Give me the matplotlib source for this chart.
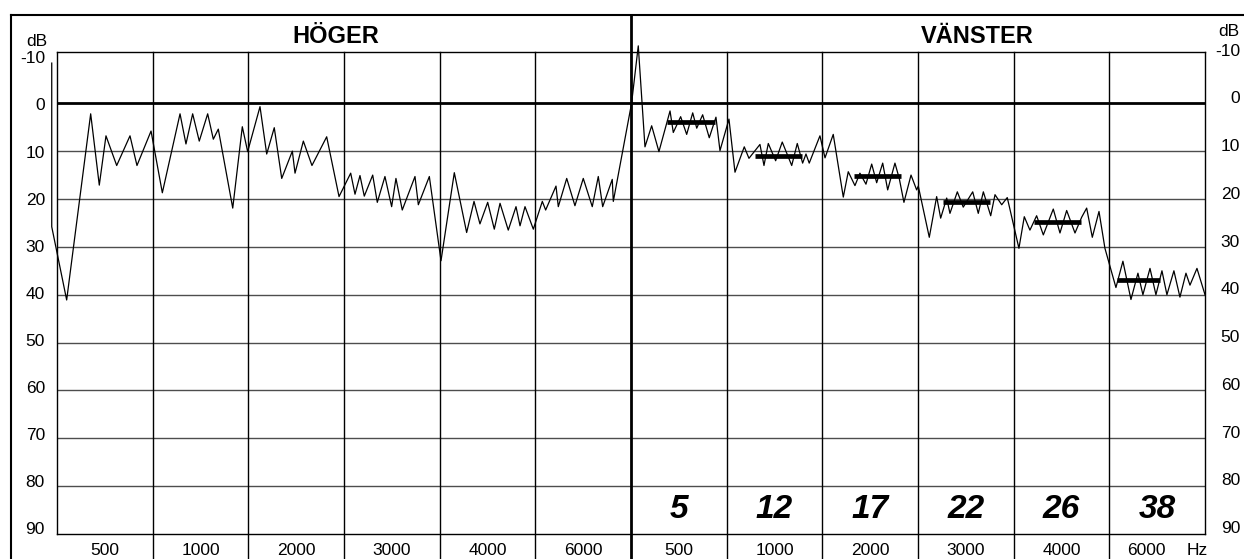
import numpy as np
import matplotlib.pyplot as plt
from matplotlib.lines import Line2D

W, H = 1244, 559
FONT = 'Liberation Sans'

# trace position in band units (0-6 = HÖGER, 6-12 = VÄNSTER) and level in dB
trace_x = [-0.055, -0.055, 0.101, 0.352, 0.442, 0.512, 0.624, 0.763, 0.836, 0.983,
           1.101, 1.286, 1.348, 1.418, 1.487, 1.575, 1.634, 1.686, 1.837, 1.937,
           1.993, 2.122, 2.192, 2.271, 2.349, 2.460, 2.488, 2.575, 2.665, 2.819,
           2.948, 3.070, 3.115, 3.167, 3.212, 3.300, 3.348, 3.428, 3.498, 3.543,
           3.609, 3.742, 3.777, 3.892, 4.014, 4.153, 4.282, 4.359, 4.421, 4.502,
           4.571, 4.631, 4.717, 4.798, 4.840, 4.892, 4.979, 5.073, 5.108, 5.216,
           5.240, 5.328, 5.414, 5.501, 5.595, 5.658, 5.704, 5.804, 5.815, 6.006,
           6.076, 6.146, 6.216, 6.292, 6.408, 6.442, 6.519, 6.582, 6.645, 6.687,
           6.749, 6.818, 6.888, 6.930, 7.024, 7.087, 7.184, 7.233, 7.348, 7.390,
           7.435, 7.512, 7.581, 7.680, 7.738, 7.794, 7.829, 7.863, 7.975, 8.028,
           8.114, 8.219, 8.271, 8.341, 8.393, 8.456, 8.516, 8.568, 8.631, 8.683,
           8.759, 8.804, 8.853, 8.927, 8.986, 9.003, 9.118, 9.195, 9.237, 9.300,
           9.334, 9.411, 9.473, 9.572, 9.630, 9.683, 9.760, 9.805, 9.875, 9.933,
           10.055, 10.111, 10.170, 10.240, 10.310, 10.414, 10.484, 10.554, 10.641, 10.711,
           10.763, 10.822, 10.892, 10.954, 11.069, 11.142, 11.226, 11.299, 11.351, 11.425,
           11.487, 11.550, 11.602, 11.675, 11.738, 11.801, 11.843, 11.916, 12.000]
trace_db = [-8.4, 25.8, 41.1, 2.2, 17.1, 6.8, 13.0, 6.8, 13.0, 5.8,
            18.7, 2.2, 8.5, 2.2, 7.9, 2.2, 7.5, 5.4, 21.9, 4.9,
            10.1, 0.7, 10.6, 5.1, 15.7, 10.0, 14.6, 7.9, 13.0, 7.0,
            19.5, 14.6, 19.0, 15.1, 19.4, 15.0, 20.7, 15.3, 21.6, 15.7,
            22.3, 15.3, 21.2, 15.3, 32.9, 14.5, 27.0, 20.5, 25.2, 20.7,
            26.3, 20.9, 26.5, 21.6, 25.6, 21.6, 26.3, 20.5, 22.3, 17.3,
            21.6, 15.7, 21.4, 15.7, 21.6, 15.3, 21.6, 15.9, 20.5, 0.0,
            -12.0, 9.1, 4.7, 10.1, 1.6, 6.1, 2.8, 6.5, 2.0, 5.2,
            2.4, 7.2, 2.9, 9.9, 3.3, 14.4, 9.1, 11.5, 8.6, 13.0,
            8.4, 12.0, 8.1, 13.0, 8.4, 12.5, 10.6, 12.5, 6.8, 11.4,
            6.5, 19.6, 14.3, 17.2, 14.6, 16.9, 12.7, 16.6, 12.5, 18.1,
            12.5, 15.7, 20.7, 15.0, 18.1, 17.3, 28.0, 19.5, 24.0, 19.8,
            23.0, 18.5, 21.7, 18.5, 23.0, 18.5, 23.5, 19.1, 21.2, 19.7,
            30.3, 23.7, 26.5, 23.5, 27.5, 22.1, 27.1, 22.4, 27.1, 23.8,
            21.9, 28.0, 22.6, 30.3, 38.5, 33.0, 41.0, 35.5, 40.0, 34.5,
            40.0, 35.0, 40.0, 35.0, 40.5, 35.5, 38.0, 34.5, 40.0]

# median bars on VÄNSTER
bar_start = [6.373, 7.296, 8.334, 9.261, 10.212, 11.080]
bar_end = [6.877, 7.784, 8.822, 9.752, 10.704, 11.530]
bar_db = [4.0, 11.0, 15.2, 20.7, 24.9, 37.0]
avg_labels = ['5', '12', '17', '22', '26', '38']

freq_labels = ['500', '1000', '2000', '3000', '4000', '6000']
db_ticks = [-10, 0, 10, 20, 30, 40, 50, 60, 70, 80, 90]

fig = plt.figure(figsize=(W / 100, H / 100), dpi=100)
ax = fig.add_axes([57 / W, (H - 534) / H, 1148 / W, (534 - 51.7) / H])
ax.set_xlim(0, 12)
ax.set_ylim(90, -10.78)
ax.set_xticks([])
ax.set_yticks([])
for s in ax.spines.values():
    s.set_linewidth(1.0)
    s.set_color('black')


def px2db(py):
    return (py - 103.3) / 4.786


# horizontal grid
for v in db_ticks[2:-1]:
    ax.axhline(v, color='#4d4d4d', lw=1.0, zorder=1)
ax.axhline(0, color='black', lw=2.0, zorder=2)

# band separators run down past the plot
for u in list(range(1, 6)) + list(range(7, 12)):
    ax.plot([u, u], [-10.78, px2db(H)], color='black', lw=1.0, clip_on=False, zorder=2)
ax.plot([6, 6], [px2db(14.7), px2db(H)], color='black', lw=2.0, clip_on=False, zorder=3)

# outer frame
fig.add_artist(Line2D([11 / W, 11 / W], [0, 1 - 14.7 / H], color='black', lw=1.5,
                      transform=fig.transFigure))
fig.add_artist(Line2D([11 / W, 1], [1 - 14.7 / H, 1 - 14.7 / H], color='black', lw=1.5,
                      transform=fig.transFigure))

# trace
ax.plot(trace_x, trace_db, color='black', lw=0.9, clip_on=False, zorder=4)
for x0, x1, v in zip(bar_start, bar_end, bar_db):
    ax.plot([x0, x1], [v, v], color='black', lw=3.4, solid_capstyle='butt', zorder=5)

for i, lab in enumerate(avg_labels):
    ax.text(6 + i + 0.5, px2db(518), lab, fontsize=24, fontweight='bold', fontstyle='italic',
            ha='center', va='baseline', family=FONT)

# frequency labels
for i, lab in enumerate(freq_labels):
    ax.text(i + 0.5, px2db(555), lab, fontsize=12.5, ha='center', va='baseline',
            family=FONT, clip_on=False)
    xr = 6 + i + 0.5 if i < 5 else px2db(0) * 0 + (1146 - 57) / 95.67
    ax.text(xr, px2db(555), lab, fontsize=12.5, ha='center', va='baseline',
            family=FONT, clip_on=False)
ax.text((1197 - 57) / 95.67, px2db(555), 'Hz', fontsize=12.5, ha='center', va='baseline',
        family=FONT, clip_on=False)

# dB labels on both sides
for v in db_ticks:
    fig.text(45 / W, 1 - (106 + 4.71 * v) / H, str(v), fontsize=12.5, ha='right',
             va='center', family=FONT)
    fig.text(1240 / W, 1 - (99 + 4.772 * v) / H, str(v), fontsize=12.5, ha='right',
             va='center', family=FONT)
fig.text(47 / W, 1 - 41 / H, 'dB', fontsize=12.5, ha='right', va='center', family=FONT)
fig.text(1239 / W, 1 - 32 / H, 'dB', fontsize=12.5, ha='right', va='center', family=FONT)

fig.text(336 / W, 1 - 43.3 / H, 'HÖGER', fontsize=17, fontweight='bold', ha='center',
         va='baseline', family=FONT)
fig.text(977 / W, 1 - 43.3 / H, 'VÄNSTER', fontsize=17, fontweight='bold', ha='center',
         va='baseline', family=FONT)

fig.savefig('out.png', dpi=100)
